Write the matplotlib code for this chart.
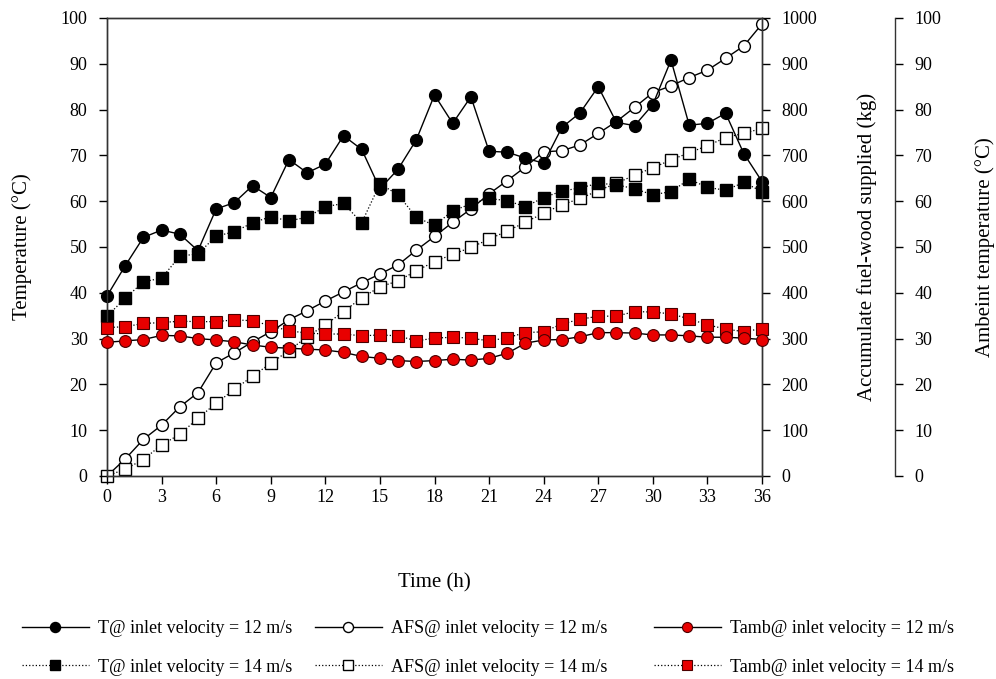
import matplotlib
matplotlib.use("Agg")
import matplotlib.pyplot as plt

plt.rcParams["font.family"] = ["Liberation Serif", "DejaVu Serif"]

hours = list(range(37))

# temperature @ 12 m/s and 14 m/s (degC)
t_12 = [39.3, 45.9, 52.1, 53.7, 52.8, 49.2, 58.3, 59.7, 63.4, 60.8, 69.1, 66.2,
        68.1, 74.3, 71.3, 62.7, 67.0, 73.4, 83.2, 77.0, 82.8, 70.9, 70.7, 69.4,
        68.3, 76.1, 79.3, 85.0, 77.2, 76.5, 81.1, 90.8, 76.6, 77.0, 79.2, 70.4, 64.3]
t_14 = [34.9, 38.8, 42.4, 43.2, 48.0, 48.5, 52.4, 53.3, 55.3, 56.6, 55.7, 56.5,
        58.8, 59.5, 55.3, 63.8, 61.4, 56.5, 54.7, 57.9, 59.4, 60.6, 60.1, 58.8,
        60.8, 62.2, 62.9, 63.9, 63.6, 62.7, 61.4, 62.1, 64.8, 63.0, 62.4, 64.1, 62.1]

# accumulated fuel-wood supplied (kg)
afs_12 = [0, 37, 80, 111, 151, 182, 247, 269, 293, 315, 341, 361,
          382, 402, 422, 441, 461, 493, 523, 554, 583, 616, 645, 675,
          708, 710, 723, 748, 774, 805, 837, 852, 870, 886, 912, 939, 987]
afs_14 = [0, 15, 36, 68, 91, 126, 159, 189, 218, 246, 274, 304,
          330, 359, 389, 413, 426, 448, 468, 484, 499, 517, 535, 554,
          574, 592, 606, 623, 639, 657, 673, 690, 706, 721, 739, 748, 759]

# ambient temperature (degC)
tamb_12 = [29.2, 29.5, 29.8, 30.7, 30.6, 30.0, 29.7, 29.3, 28.6, 28.1, 27.9, 27.7,
           27.5, 27.0, 26.1, 25.7, 25.2, 25.0, 25.2, 25.5, 25.3, 25.7, 26.8, 29.0,
           29.7, 29.8, 30.4, 31.3, 31.3, 31.2, 30.8, 30.8, 30.6, 30.3, 30.3, 30.1, 29.8]
tamb_14 = [32.4, 32.6, 33.3, 33.5, 33.8, 33.7, 33.7, 34.1, 33.9, 32.8, 31.7, 31.2,
           31.0, 31.0, 30.6, 30.8, 30.6, 29.5, 30.1, 30.3, 30.1, 29.5, 30.2, 31.3,
           31.5, 33.2, 34.2, 34.9, 34.9, 35.9, 35.8, 35.4, 34.3, 33.0, 32.1, 31.5, 32.2]

red = "#e80000"
red_edge = "#4a0000"

fig = plt.figure(figsize=(9.96, 6.79), dpi=100)
ax = fig.add_axes([107 / 996, 1 - 476 / 679, 655 / 996, 458 / 679])
ax2 = ax.twinx()
ax3 = ax.twinx()
ax3.spines["right"].set_position(("axes", (895 - 107) / 655))
for s in ["top", "left", "bottom"]:
    ax3.spines[s].set_visible(False)

ax.set_zorder(3)
ax.patch.set_visible(False)
ax3.set_zorder(4)

solid = dict(linestyle="-", linewidth=1.0, color="black", clip_on=False)
dotted = dict(linestyle=":", linewidth=0.9, color="black", clip_on=False)

h_afs12, = ax2.plot(hours, afs_12, marker="o", markersize=8.5, markerfacecolor="white",
                    markeredgecolor="black", markeredgewidth=1.0, **solid)
h_afs14, = ax2.plot(hours, afs_14, marker="s", markersize=8, markerfacecolor="white",
                    markeredgecolor="black", markeredgewidth=1.0, **dotted)
h_t14, = ax.plot(hours, t_14, marker="s", markersize=8, markerfacecolor="black",
                 markeredgecolor="black", **dotted)
h_t12, = ax.plot(hours, t_12, marker="o", markersize=8.5, markerfacecolor="black",
                 markeredgecolor="black", **solid)
h_ta14, = ax3.plot(hours, tamb_14, marker="s", markersize=8, markerfacecolor=red,
                   markeredgecolor=red_edge, markeredgewidth=0.8, **dotted)
h_ta12, = ax3.plot(hours, tamb_12, marker="o", markersize=8.5, markerfacecolor=red,
                   markeredgecolor=red_edge, markeredgewidth=0.8, **solid)

ax.set_xlim(0, 36)
ax.set_xticks(range(0, 37, 3))
ax.set_ylim(0, 100)
ax.set_yticks(range(0, 101, 10))
ax2.set_ylim(0, 1000)
ax2.set_yticks(range(0, 1001, 100))
ax3.set_ylim(0, 100)
ax3.set_yticks(range(0, 101, 10))

for a in (ax, ax2, ax3):
    a.tick_params(direction="out", length=6, width=1, labelsize=13, colors="black")
    a.tick_params(axis="y", pad=8)
    for s in a.spines.values():
        s.set_linewidth(1.0)
        s.set_color("#333333")

ax.set_xlabel("Time (h)", fontsize=15, labelpad=48)
ax.set_ylabel("Temperature (°C)", fontsize=15, labelpad=21)
ax2.set_ylabel("Accumulate fuel-wood supplied (kg)", fontsize=15, labelpad=29)
ax3.set_ylabel("Ambeint temperature (°C)", fontsize=15, labelpad=24)

leg_opts = dict(loc="upper left", frameon=False, fontsize=13, handlelength=3.7,
                handletextpad=0.5, labelspacing=1.2, borderpad=0, borderaxespad=0,
                markerscale=0.85)
pairs = [
    ((h_t12, h_t14), ("T@ inlet velocity = 12 m/s", "T@ inlet velocity = 14 m/s"), 22),
    ((h_afs12, h_afs14), ("AFS@ inlet velocity = 12 m/s", "AFS@ inlet velocity = 14 m/s"), 315),
    ((h_ta12, h_ta14), ("Tamb@ inlet velocity = 12 m/s", "Tamb@ inlet velocity = 14 m/s"), 654),
]
for handles, labels, x0 in pairs:
    fig.legend(handles, labels, bbox_to_anchor=(x0 / 996, 1 - 620 / 679), **leg_opts)

fig.savefig("out.png", dpi=100)
